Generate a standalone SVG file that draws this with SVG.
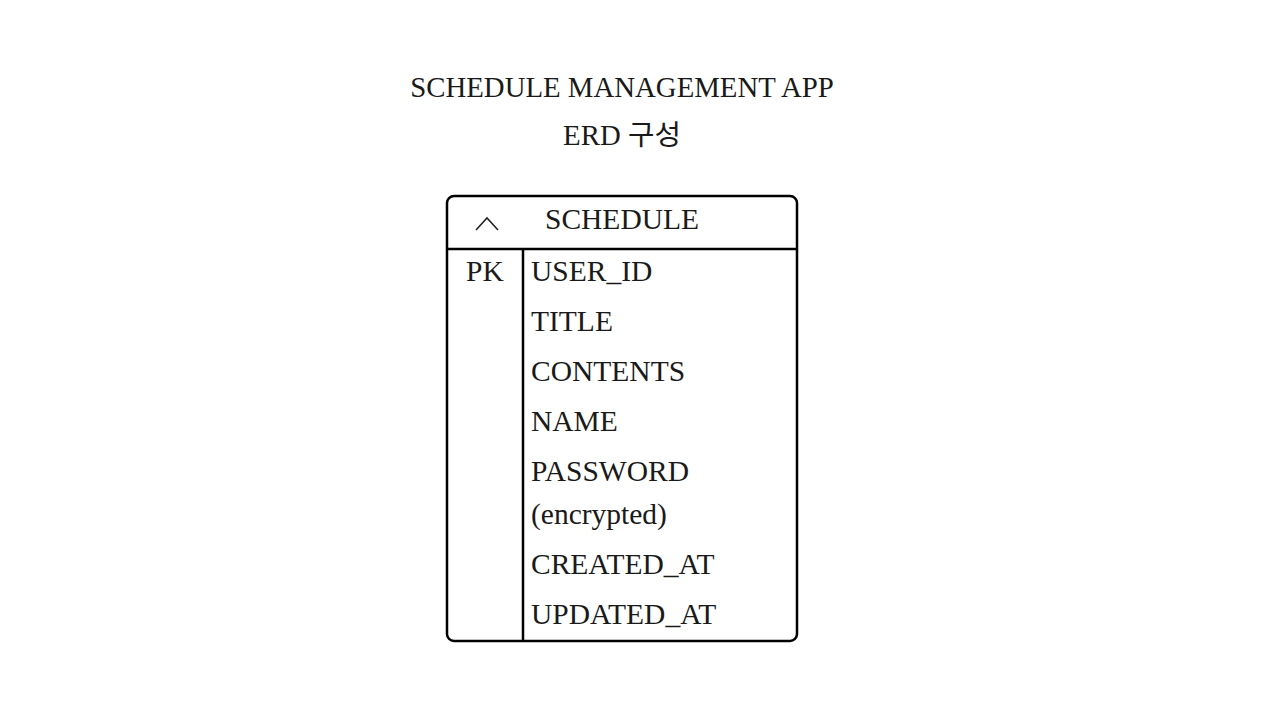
<svg xmlns="http://www.w3.org/2000/svg" width="1265" height="711" viewBox="0 0 1265 711">
<style>
.t{font-family:"Liberation Serif","Noto Sans CJK KR",serif;fill:#1a1a1a}
.title{font-size:28.8px}
.row{font-size:29.5px}
.ln{fill:none;stroke:#000;stroke-width:2.5}
</style>
<rect width="1265" height="711" fill="#fff"/>
<g id="title">
<text class="t title" x="622" y="97" text-anchor="middle">SCHEDULE MANAGEMENT APP</text>
<text class="t title" x="622" y="145" text-anchor="middle">ERD 구성</text>
</g>
<g id="schedule">
<rect class="ln" x="447" y="196" width="350" height="445" rx="7"/>
<line class="ln" x1="447" y1="249" x2="797" y2="249"/>
<line class="ln" x1="523" y1="249" x2="523" y2="641"/>
<path d="M476 230 L487 218 L498 230" fill="none" stroke="#222" stroke-width="1.6"/>
<text class="t row" x="622" y="229" text-anchor="middle">SCHEDULE</text>
<text class="t row" x="466" y="281">PK</text>
<text class="t row" x="531" y="281">USER_ID</text>
<text class="t row" x="531" y="331">TITLE</text>
<text class="t row" x="531" y="381">CONTENTS</text>
<text class="t row" x="531" y="431">NAME</text>
<text class="t row" x="531" y="481">PASSWORD</text>
<text class="t row" x="531" y="524">(encrypted)</text>
<text class="t row" x="531" y="574">CREATED_AT</text>
<text class="t row" x="531" y="624">UPDATED_AT</text>
</g>
</svg>
